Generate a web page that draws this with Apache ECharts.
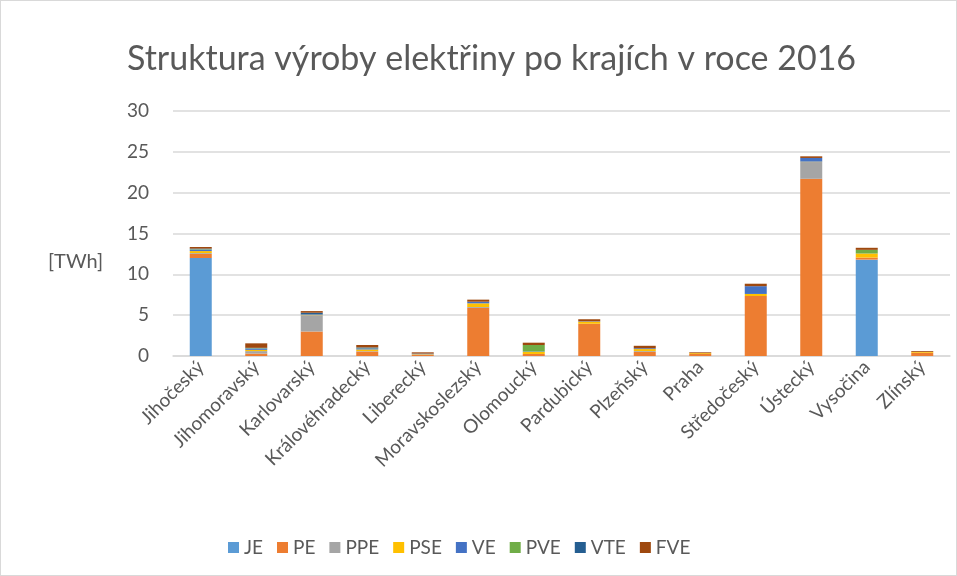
<!DOCTYPE html>
<html>
<head>
<meta charset="utf-8">
<script src="https://cdn.jsdelivr.net/npm/echarts@6/dist/echarts.min.js"></script>
<style>
    html, body { margin: 0; padding: 0; background: #fff; }
    #chart { width: 955px; height: 574px; border: 1px solid #d9d9d9; }
</style>
</head>
<body>
<div id="chart"></div>
<script>
    var kraje = ['Jihočeský', 'Jihomoravský', 'Karlovarský', 'Královéhradecký', 'Liberecký',
        'Moravskoslezský', 'Olomoucký', 'Pardubický', 'Plzeňský', 'Praha', 'Středočeský',
        'Ústecký', 'Vysočina', 'Zlínský'];
    var zdroje = ['JE', 'PE', 'PPE', 'PSE', 'VE', 'PVE', 'VTE', 'FVE'];
    var barvy = ['#5B9BD5', '#ED7D31', '#A5A5A5', '#FFC000', '#4472C4', '#70AD47', '#255E91', '#9E480E'];

    // [TWh]
    var JE  = [12.0, 0,    0,    0,    0,    0,    0,    0,    0,    0,    0,    0,    11.8, 0];
    var PE  = [0.5,  0.3,  3.0,  0.55, 0.15, 5.9,  0.25, 3.95, 0.5,  0.25, 7.35, 21.7, 0.25, 0.4];
    var PPE = [0.1,  0.3,  2.0,  0.05, 0.02, 0.1,  0,    0,    0.1,  0,    0,    2.05, 0,    0];
    var PSE = [0.25, 0.15, 0.05, 0.2,  0.05, 0.45, 0.25, 0.25, 0.25, 0.1,  0.25, 0.05, 0.5,  0.1];
    var VE  = [0.2,  0.15, 0.05, 0.15, 0.08, 0.2,  0.05, 0.05, 0.1,  0,    0.95, 0.45, 0,    0];
    var PVE = [0.05, 0.05, 0,    0.05, 0,    0,    0.8,  0,    0,    0,    0,    0,    0.45, 0];
    var VTE = [0.05, 0.05, 0.2,  0.05, 0,    0,    0,    0,    0,    0,    0,    0,    0,    0];
    var FVE = [0.2,  0.55, 0.2,  0.3,  0.15, 0.25, 0.28, 0.25, 0.3,  0.1,  0.3,  0.2,  0.25, 0.1];
    var hodnoty = [JE, PE, PPE, PSE, VE, PVE, VTE, FVE];

    var osaY = [0, 5, 10, 15, 20, 25, 30];

    var font = 'Lato, "Open Sans", sans-serif';
    var chart = echarts.init(document.getElementById('chart'));

    var series = [];
    for (var i = 0; i < zdroje.length; i++) {
        series.push({
            name: zdroje[i],
            type: 'bar',
            stack: 'celkem',
            data: hodnoty[i],
            barWidth: 22,
            itemStyle: {color: barvy[i]},
            emphasis: {disabled: true}
        });
    }

    var option = {
        animation: false,
        textStyle: {fontFamily: font},
        title: {
            text: 'Struktura výroby elektřiny po krajích v roce 2016',
            left: 121,
            top: 36,
            textStyle: {fontFamily: font, fontSize: 34, fontWeight: 'normal', color: '#595959'}
        },
        grid: {left: 172, right: 6, top: 110, bottom: 219},
        legend: {
            bottom: 13,
            left: 222,
            data: zdroje,
            itemWidth: 11,
            itemHeight: 11,
            itemGap: 14,
            icon: 'rect',
            textStyle: {fontFamily: font, fontSize: 19, color: '#595959'}
        },
        xAxis: {
            type: 'category',
            data: kraje,
            axisLine: {lineStyle: {color: '#d9d9d9', width: 1.5}},
            axisTick: {show: false},
            axisLabel: {
                rotate: 45,
                interval: 0,
                margin: 8,
                fontFamily: font,
                fontSize: 19,
                color: '#595959'
            }
        },
        yAxis: {
            type: 'value',
            min: osaY[0],
            max: osaY[osaY.length - 1],
            interval: 5,
            axisLine: {show: false},
            axisTick: {show: false},
            splitLine: {lineStyle: {color: '#d9d9d9', width: 1.5}},
            axisLabel: {
                margin: 24,
                fontFamily: font,
                fontSize: 19,
                color: '#595959'
            }
        },
        graphic: [{
            type: 'text',
            left: 47,
            top: 251,
            style: {text: '[TWh]', fontFamily: font, fontSize: 20, fill: '#595959'}
        }],
        series: series
    };
    chart.setOption(option);
</script>
</body>
</html>
